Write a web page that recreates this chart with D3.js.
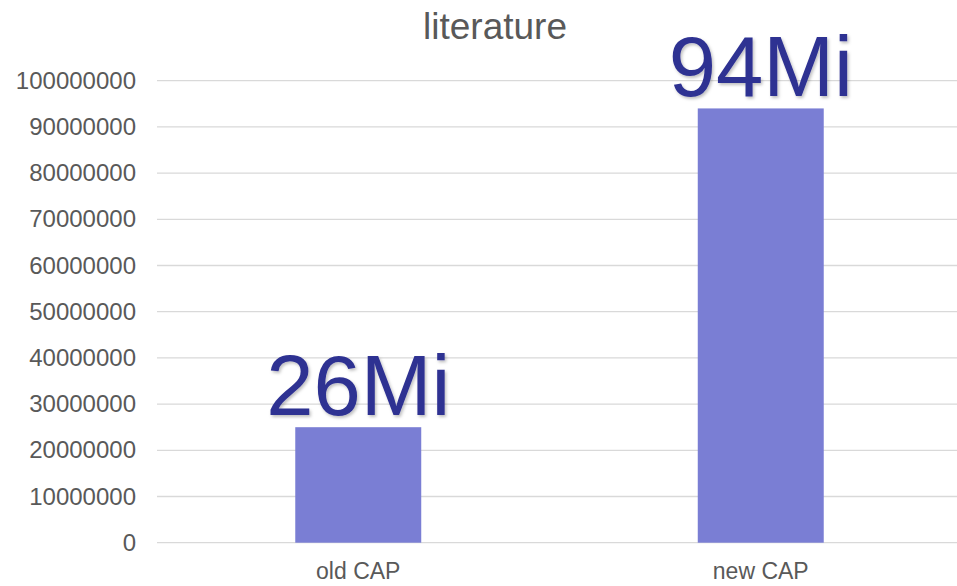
<!DOCTYPE html>
<html>
<head>
<meta charset="utf-8">
<script src="https://cdn.jsdelivr.net/npm/d3@7"></script>
<style>
  html, body { margin: 0; padding: 0; background: #fff; }
  svg { display: block; font-family: "Liberation Sans", Arial, sans-serif; }
</style>
</head>
<body>
<svg id="chart" width="957" height="586"></svg>
<script>
const categories = ["old CAP", "new CAP"];
const values = [25000000, 94000000];
const valueLabels = ["26Mi", "94Mi"];
const yTicks = [0, 10000000, 20000000, 30000000, 40000000, 50000000, 60000000, 70000000, 80000000, 90000000, 100000000];
const title = "literature";

(function () {
const svg = d3.select("#chart");
const mLeft = 157, mRight = 962, mTop = 80.7, mBottom = 542.7;

const x = d3.scaleBand().domain(categories).range([mLeft, mRight]).paddingInner(0.687).paddingOuter(0.3435);
const y = d3.scaleLinear().domain([0, 100000000]).range([mBottom, mTop]);

const defs = svg.append("defs");
const f = defs.append("filter").attr("id", "shadow").attr("x", "-10%").attr("y", "-10%").attr("width", "130%").attr("height", "130%");
f.append("feDropShadow").attr("dx", 1.5).attr("dy", 2).attr("stdDeviation", 1.5).attr("flood-color", "#000").attr("flood-opacity", 0.25);

// gridlines
svg.append("g").selectAll("line").data(yTicks).join("line")
  .attr("x1", mLeft).attr("x2", 957)
  .attr("y1", d => y(d)).attr("y2", d => y(d))
  .attr("stroke", "#d9d9d9").attr("stroke-width", 1.3);

// y axis labels
const yAxis = d3.axisLeft(y).tickValues(yTicks).tickFormat(d3.format("d")).tickSize(0).tickPadding(21);
const gy = svg.append("g").attr("transform", `translate(${mLeft},0)`).call(yAxis);
gy.select(".domain").remove();
gy.selectAll("text").attr("font-size", 24).attr("fill", "#595959").attr("font-family", "Liberation Sans, Arial, sans-serif");

// bars
svg.append("g").selectAll("rect").data(categories).join("rect")
  .attr("x", d => x(d)).attr("width", x.bandwidth())
  .attr("y", (d, i) => y(values[i]))
  .attr("height", (d, i) => y(0) - y(values[i]))
  .attr("fill", "#7a7ed4");

// x axis labels
const xAxis = d3.axisBottom(x).tickSize(0).tickPadding(20);
const gx = svg.append("g").attr("transform", `translate(0,${mBottom})`).call(xAxis);
gx.select(".domain").remove();
gx.selectAll("text").attr("font-size", 23).attr("fill", "#595959").attr("font-family", "Liberation Sans, Arial, sans-serif");

// value labels
svg.append("g").selectAll("text").data(categories).join("text")
  .attr("x", d => x(d) + x.bandwidth() / 2)
  .attr("y", (d, i) => y(values[i]) - 12)
  .attr("text-anchor", "middle")
  .attr("font-size", 85)
  .attr("fill", "#2e3192")
  .attr("filter", "url(#shadow)")
  .text((d, i) => valueLabels[i]);

// title
svg.append("text").attr("x", 495).attr("y", 39).attr("text-anchor", "middle")
  .attr("font-size", 37).attr("fill", "#595959").text(title);
})();
</script>
</body>
</html>
